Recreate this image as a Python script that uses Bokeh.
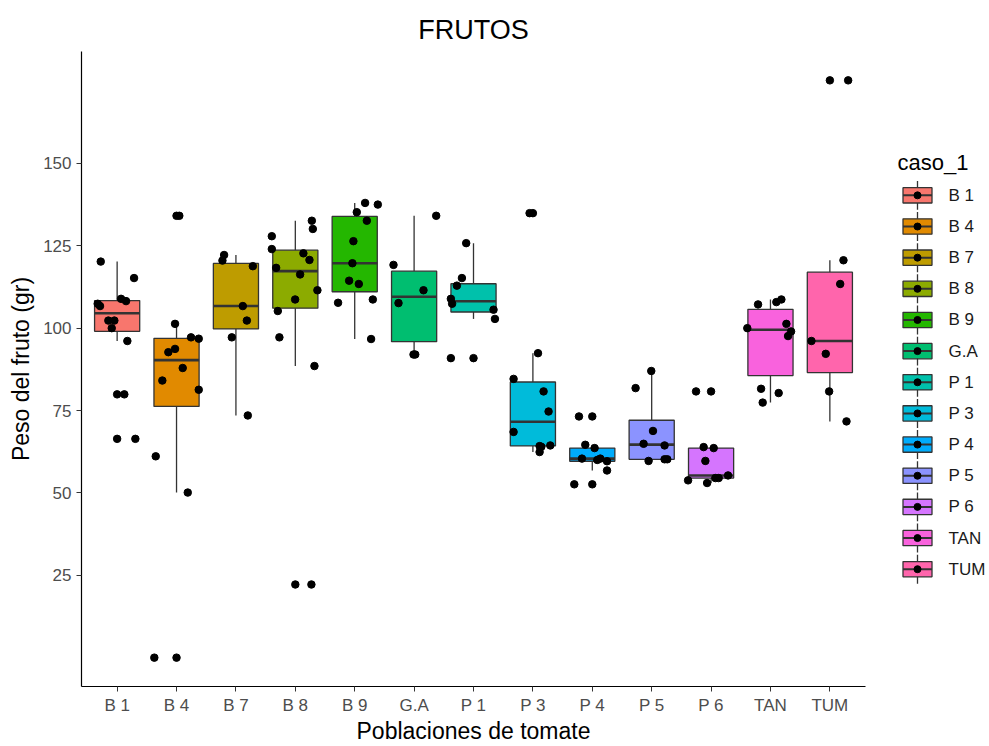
import numpy as np
from bokeh.plotting import figure
from bokeh.models import Range1d, FixedTicker, ColumnDataSource
from bokeh.layouts import row
from bokeh.embed import file_html
from bokeh.resources import INLINE
from bokeh.core.properties import value

# ---------------- data ----------------
categories = ["B 1", "B 4", "B 7", "B 8", "B 9", "G.A", "P 1", "P 3", "P 4", "P 5", "P 6", "TAN", "TUM"]
colors = ["#F8766D", "#E18A00", "#BE9C00", "#8CAB00", "#24B700", "#00BE70", "#00C1AB",
          "#00BBDA", "#00ACFC", "#8B93FF", "#D575FE", "#F962DD", "#FF65AC"]

b1_peso = [120.2, 115.2, 107.4, 106.7, 108.9, 108.2, 102.3, 102.3, 100.0, 96.1, 79.9, 66.4]
b1_jit = [-0.276, 0.285, -0.327, -0.288, 0.066, 0.150, -0.148, -0.047, -0.091, 0.172, 0.121, 0.307]

b4_peso = [134.1, 101.3, 97.2, 96.8, 92.7, 93.7, 87.9, 84.1, 81.3, 61.1, 50.1, 0.0]
b4_jit = [0.047, -0.025, 0.244, 0.374, -0.138, -0.025, 0.104, -0.239, 0.374, -0.350, 0.189, -0.374]

b7_peso = [122.2, 120.5, 118.8, 106.7, 102.3, 97.2, 73.5]
b7_jit = [-0.199, -0.227, 0.285, 0.116, 0.184, -0.069, 0.200]

b8_peso = [127.9, 124.0, 132.6, 130.1, 118.3, 122.7, 120.7, 116.3, 111.5, 108.7, 105.2, 97.2, 88.5, 22.2]
b8_jit = [-0.396, -0.396, 0.278, 0.295, -0.323, 0.136, 0.238, 0.081, 0.372, -0.003, -0.295, -0.268, 0.322, 0.271]

b9_peso = [138.0, 137.5, 135.2, 132.6, 126.4, 119.7, 114.4, 113.4, 107.7, 108.7, 96.7]
b9_jit = [0.175, 0.389, 0.035, 0.204, -0.022, -0.039, -0.094, 0.069, -0.280, 0.305, 0.276]

ga_peso = [134.1, 119.2, 111.5, 107.6, 92.0, 92.0]
ga_jit = [0.372, -0.347, 0.158, -0.263, -0.010, 0.019]

p1_peso = [125.8, 115.2, 112.9, 108.9, 107.4, 105.6, 102.8, 90.9]
p1_jit = [-0.123, -0.195, -0.280, -0.381, -0.360, 0.337, 0.361, -0.381]

p3_peso = [134.9, 92.4, 84.6, 80.8, 74.7, 68.5, 64.2, 64.4, 62.4, 64.0]
p3_jit = [-0.056, 0.086, -0.325, 0.180, 0.264, -0.325, 0.113, 0.293, 0.113, 0.142]

p4_peso = [73.2, 64.6, 63.6, 60.4, 60.4, 60.0, 59.6, 56.8, 52.6]
p4_jit = [-0.224, -0.118, 0.039, -0.174, 0.135, 0.084, 0.248, 0.248, -0.303]

p5_peso = [87.0, 81.8, 68.8, 64.9, 64.4, 59.7, 60.2, 60.2]
p5_jit = [-0.007, -0.271, 0.022, -0.136, 0.217, -0.052, 0.217, 0.263]

p6_peso = [80.8, 63.9, 63.6, 59.7, 55.3, 54.5, 54.5, 53.8, 53.0]
p6_jit = [-0.253, -0.125, 0.044, -0.096, 0.286, 0.072, 0.128, -0.387, -0.067]

tan_peso = [107.2, 107.9, 108.7, 100.0, 101.3, 99.0, 97.6, 81.6, 80.3, 77.4]
tan_jit = [-0.209, 0.099, 0.184, -0.390, 0.268, 0.347, 0.296, -0.158, 0.138, -0.131]

tum_peso = [175.2, 120.6, 113.4, 96.1, 92.2, 80.8, 71.7]
tum_jit = [0.308, 0.229, 0.174, -0.310, -0.069, -0.012, 0.280]

y_ticks = [25, 50, 75, 100, 125, 150]

pesos = [b1_peso, b4_peso, b7_peso, b8_peso, b9_peso, ga_peso, p1_peso,
         p3_peso, p4_peso, p5_peso, p6_peso, tan_peso, tum_peso]
jits = [b1_jit, b4_jit, b7_jit, b8_jit, b9_jit, ga_jit, p1_jit,
        p3_jit, p4_jit, p5_jit, p6_jit, tan_jit, tum_jit]

FONT = "Liberation Sans"
BOX_W = 0.76

# ---------------- boxplot statistics ----------------
box = dict(x=[], q1=[], med=[], q3=[], lo=[], hi=[], color=[], x0=[], x1=[])
out_x, out_y = [], []
pt_x, pt_y = [], []
for i, (vals, jit) in enumerate(zip(pesos, jits)):
    xpos = i + 1
    v = np.asarray(vals, float)
    q1, med, q3 = np.percentile(v, [25, 50, 75])
    iqr = q3 - q1
    lf, hf = q1 - 1.5 * iqr, q3 + 1.5 * iqr
    inside = v[(v >= lf) & (v <= hf)]
    box["x"].append(xpos); box["q1"].append(q1); box["med"].append(med); box["q3"].append(q3)
    box["lo"].append(inside.min()); box["hi"].append(inside.max()); box["color"].append(colors[i])
    box["x0"].append(xpos - BOX_W / 2); box["x1"].append(xpos + BOX_W / 2)
    for val in v[(v < lf) | (v > hf)]:
        out_x.append(xpos); out_y.append(val)
    for val, j in zip(vals, jit):
        pt_x.append(xpos + j); pt_y.append(val)

src = ColumnDataSource(box)

# ---------------- main figure ----------------
p = figure(width=870, height=746, x_range=Range1d(0.4, 13.6), y_range=Range1d(-8.76, 183.96),
           output_backend="svg", toolbar_location=None,
           min_border_left=81, min_border_right=5, min_border_top=51, min_border_bottom=59,
           title="FRUTOS")
p.title.align = "center"
p.title.text_font = FONT
p.title.text_font_size = "27px"
p.title.text_font_style = "normal"
p.title.text_color = "black"
p.title.standoff = 14

p.xgrid.visible = False
p.ygrid.visible = False
p.outline_line_color = None
p.background_fill_color = "white"
p.border_fill_color = "white"

p.xaxis.ticker = FixedTicker(ticks=list(range(1, len(categories) + 1)))
p.xaxis.major_label_overrides = {i + 1: c for i, c in enumerate(categories)}
p.yaxis.ticker = FixedTicker(ticks=y_ticks)
p.xaxis.axis_label = "Poblaciones de tomate"
p.yaxis.axis_label = "Peso del fruto (gr)"
for ax in (p.xaxis[0], p.yaxis[0]):
    ax.axis_line_color = "black"
    ax.axis_line_width = 1.2
    ax.major_tick_line_color = "#333333"
    ax.major_tick_line_width = 1
    ax.major_tick_out = 5
    ax.major_tick_in = 0
    ax.minor_tick_line_color = None
    ax.major_label_text_font = FONT
    ax.major_label_text_font_size = "17px"
    ax.major_label_text_color = "#4D4D4D"
    ax.axis_label_text_font = FONT
    ax.axis_label_text_font_size = "23px"
    ax.axis_label_text_font_style = "normal"
    ax.axis_label_text_color = "black"
p.xaxis.major_label_standoff = 4
p.xaxis.axis_label_standoff = 0
p.yaxis.major_label_standoff = 5
p.yaxis.axis_label_standoff = 6

# whiskers
p.segment(x0="x", y0="q3", x1="x", y1="hi", source=src, line_color="#333333", line_width=1.3)
p.segment(x0="x", y0="q1", x1="x", y1="lo", source=src, line_color="#333333", line_width=1.3)
# boxes
p.vbar(x="x", width=BOX_W, bottom="q1", top="q3", source=src, fill_color="color",
       line_color="#333333", line_width=1.3)
# medians
p.segment(x0="x0", y0="med", x1="x1", y1="med", source=src, line_color="#333333", line_width=2.6)
# outliers
p.scatter(out_x, out_y, size=7.5, fill_color="black", line_color="black")
# jittered points
p.scatter(pt_x, pt_y, size=7.5, fill_color="black", line_color="black")

# ---------------- legend figure ----------------
LW, LH = 119, 746
leg = figure(width=LW, height=LH, x_range=Range1d(0, LW), y_range=Range1d(LH, 0),
             output_backend="svg", toolbar_location=None, x_axis_type=None, y_axis_type=None,
             min_border=0)
leg.grid.visible = False
leg.outline_line_color = None
leg.background_fill_color = "white"
leg.border_fill_color = "white"

n = len(categories)
row_y = [169 + k * 36.6 for k in range(n)]
kx = [47] * n
leg.segment(x0=kx, y0=[y - 17 for y in row_y], x1=kx, y1=[y + 17 for y in row_y],
            line_color="#333333", line_width=1.3)
leg.rect(x=kx, y=row_y, width=29, height=18, fill_color=colors, line_color="#333333", line_width=1.3)
leg.segment(x0=[47 - 14.5] * n, y0=row_y, x1=[47 + 14.5] * n, y1=row_y, line_color="#333333", line_width=2)
leg.scatter(kx, row_y, size=7, fill_color="black", line_color="black")
leg.text(x=[78] * n, y=row_y, text=categories, text_font=value(FONT), text_font_size=value("17px"),
         text_baseline="middle", text_color="#1A1A1A")
leg.text(x=[27], y=[130], text=["caso_1"], text_font=value(FONT), text_font_size=value("22px"),
         text_baseline="middle", text_color="black")

layout = row(p, leg)
open("out.html", "w").write(file_html(layout, INLINE))
